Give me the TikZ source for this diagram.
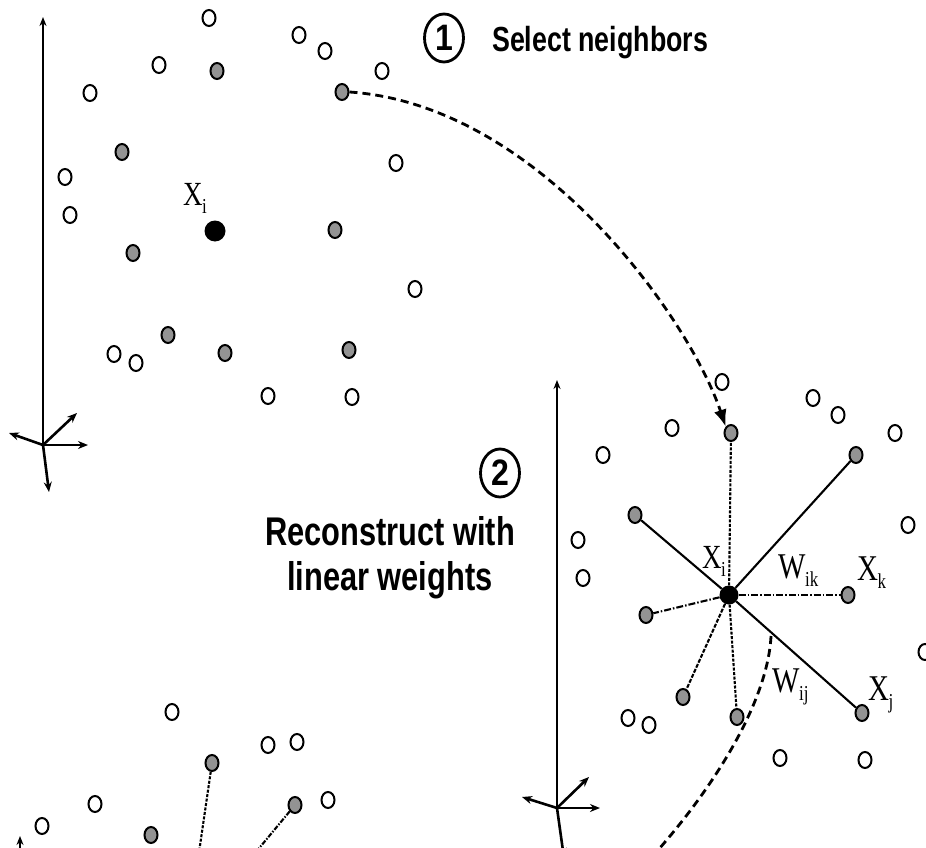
\documentclass[tikz,border=0pt]{standalone}
\usepackage{fontspec}
\usepackage{graphicx}
\setmainfont{Liberation Serif}
\newfontfamily\hvb{Liberation Sans}
\usetikzlibrary{shapes.geometric,arrows.meta}
\newcommand{\mylab}[3]{\scalebox{1}[1.25]{\fontsize{#3}{#3}\selectfont #1\kern-0.5pt\raisebox{-7pt}{\fontsize{17}{17}\selectfont #2}}}
\tikzset{
  opt/.style={ellipse, draw=black, fill=white, line width=2pt, minimum width=13pt, minimum height=16pt, inner sep=0pt},
  nbr/.style={ellipse, draw=black, fill=gray!85, line width=2pt, minimum width=13pt, minimum height=16pt, inner sep=0pt},
  ctr/.style={circle, fill=black, minimum size=21pt, inner sep=0pt},
  ctrb/.style={circle, fill=black, minimum size=19pt, inner sep=0pt},
  axis/.style={line width=1.8pt, -{Stealth[length=9pt,width=7pt]}},
  saxis/.style={line width=2.6pt, -{Stealth[length=10pt,width=8pt]}},
  ln/.style={line width=2.1pt},
  arc/.style={line width=2.8pt, dash pattern=on 8pt off 5pt},
  steptxt/.style={inner sep=0pt, anchor=base west, font=\hvb\bfseries},
  numc/.style={ellipse, draw=black, line width=2.8pt, minimum width=39pt, minimum height=48pt, inner sep=0pt, font=\hvb\bfseries\fontsize{32}{32}\selectfont},
  lab/.style={inner sep=0pt, anchor=base west}
}
\begin{document}
\begin{tikzpicture}[x=1pt,y=-1pt]
\useasboundingbox (0,0) rectangle (926,848);
\fill[white] (0,0) rectangle (926,848);
\clip (0,0) rectangle (926,848);

% ---------- left panel axes ----------
\coordinate (a1o) at (43,445);
\coordinate (a1u) at (43,17);
\coordinate (a1r) at (88,445);
\coordinate (a1d) at (77,413);
\coordinate (a1l) at (9,433);
\coordinate (a1b) at (49,492);
\draw[axis] (a1o) -- (a1u);
\draw[saxis] (a1o) -- (a1r);
\draw[saxis] (a1o) -- (a1d);
\draw[saxis] (a1o) -- (a1l);
\draw[saxis] (a1o) -- (a1b);

% ---------- left panel points ----------
\foreach \n/\x/\y in {1/209/18, 2/299/35, 3/325/51, 4/382/71, 5/159/65, 6/90/93, 7/396/163, 8/65/177, 9/70/215, 10/415/289, 11/114/354, 12/136/363, 13/268/396, 14/352/397}
  \node[opt] (lo\n) at (\x,\y) {};
\foreach \n/\x/\y in {1/217/71, 2/342/92, 3/122/152, 4/133/253, 5/335/230, 6/168/335, 7/225/353, 8/349/350}
  \node[nbr] (lg\n) at (\x,\y) {};
\node[ctr] (lc) at (215,231) {};
\node[lab] (lx) at (183,205) {\mylab{X}{i}{27}};

% ---------- step 1 ----------
\node[numc] (num1) at (444,38) {\scalebox{1}[1.15]{1}};
\node[steptxt, font=\hvb\bfseries\fontsize{26.8}{30}\selectfont] (t1) at (492,52) {\scalebox{1}[1.3]{Select neighbors}};

% ---------- step 2 ----------
\node[numc] (num2) at (500,473) {\scalebox{1}[1.15]{2}};
\node[steptxt, font=\hvb\bfseries\fontsize{30.8}{34}\selectfont] (t2a) at (265,545) {\scalebox{1}[1.3]{Reconstruct with}};
\node[steptxt, font=\hvb\bfseries\fontsize{30.8}{34}\selectfont] (t2b) at (287,590) {\scalebox{1}[1.3]{linear weights}};

% ---------- right panel axes ----------
\coordinate (a2o) at (557,808);
\coordinate (a2u) at (557,380);
\coordinate (a2r) at (600,808);
\coordinate (a2d) at (589,777);
\coordinate (a2l) at (522,797);
\coordinate (a2b) at (564,858);
\draw[axis] (a2o) -- (a2u);
\draw[saxis] (a2o) -- (a2r);
\draw[saxis] (a2o) -- (a2d);
\draw[saxis] (a2o) -- (a2l);
\draw[saxis] (a2o) -- (a2b);

% ---------- right panel points ----------
\foreach \n/\x/\y in {1/722/382, 2/813/398, 3/838/415, 4/895/433, 5/672/428, 6/603/455, 7/908/525, 8/578/540, 9/583/578, 10/925/652, 11/628/718, 12/649/725, 13/780/758, 14/865/760}
  \node[opt] (ro\n) at (\x,\y) {};
\node[ctrb] (rc) at (729,595) {};
\node[nbr] (rg1) at (731,433) {};
\node[nbr] (rg2) at (856,455) {};
\node[nbr] (rg3) at (635,515) {};
\node[nbr] (rg4) at (848,595) {};
\node[nbr] (rg5) at (646,615) {};
\node[nbr] (rg6) at (683,697) {};
\node[nbr] (rg7) at (737,717) {};
\node[nbr] (rg8) at (862,713) {};

\draw[ln, dash pattern=on 3pt off 1.5pt] (rc) -- (rg1);
\draw[ln] (rc) -- (rg2);
\draw[ln] (rc) -- (rg3);
\draw[ln, dash pattern=on 7pt off 2pt on 1.5pt off 2pt] (rc) -- (rg4);
\draw[ln, dash pattern=on 7pt off 2pt on 1.5pt off 2pt] (rc) -- (rg5);
\draw[ln, dash pattern=on 4pt off 1.5pt] (rc) -- (rg6);
\draw[ln, dash pattern=on 3pt off 1.5pt] (rc) -- (rg7);
\draw[ln] (rc) -- (rg8);

\node[lab] (rx) at (702,568) {\mylab{X}{i}{27}};
\node[lab] (wik) at (778,578) {\mylab{W}{ik}{29}};
\node[lab] (xk) at (857,580) {\mylab{X}{k}{29}};
\node[lab] (wij) at (772,692) {\mylab{W}{ij}{29}};
\node[lab] (xj) at (868,700) {\mylab{X}{j}{29}};

% ---------- arcs ----------
\draw[arc, -{Latex[length=17pt,width=13pt]}] (lg2.east) .. controls (540,105) and (690,320) .. (rg1.north west);
\coordinate (arcS) at (771,636);
\coordinate (arcE) at (640,870);
\draw[arc] (arcS) .. controls (768,700) and (715,790) .. (arcE);

% ---------- bottom panel ----------
\coordinate (a3o) at (20,900);
\coordinate (a3u) at (20,836);
\draw[axis] (a3o) -- (a3u);
\foreach \n/\x/\y in {1/172/712, 2/268/745, 3/297/742, 4/328/800, 5/95/804, 6/42/826}
  \node[opt] (bo\n) at (\x,\y) {};
\node[nbr] (bg1) at (212,763) {};
\node[nbr] (bg2) at (295,805) {};
\node[nbr] (bg3) at (151,835) {};
\coordinate (bc) at (187,935);
\draw[ln, dash pattern=on 3pt off 1.5pt] (bg1) -- (bc);
\draw[ln, dash pattern=on 5pt off 1.5pt on 1.5pt off 1.5pt] (bg2) -- (bc);
\end{tikzpicture}
\end{document}
